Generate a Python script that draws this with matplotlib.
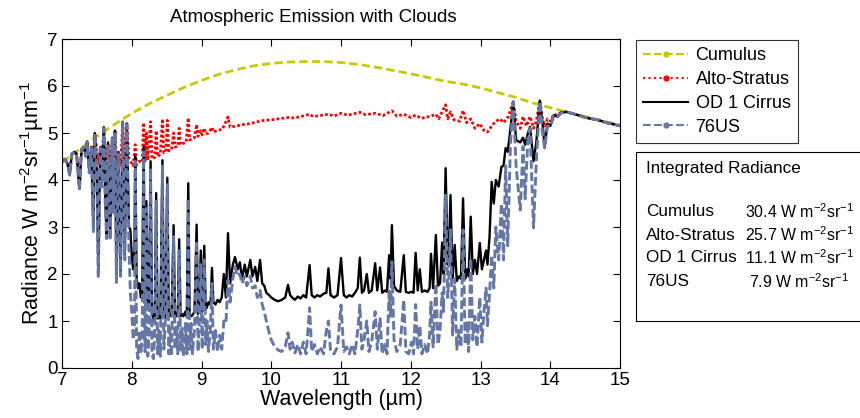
import numpy as np
import matplotlib
matplotlib.use("Agg")
import matplotlib.pyplot as plt
from matplotlib.lines import Line2D
from matplotlib.patches import Rectangle

plt.rcParams["font.family"] = ["Liberation Sans", "DejaVu Sans"]
plt.rcParams["mathtext.default"] = "regular"

# ---- Cumulus (smooth, optically thick cloud) ----
wl_cu = [7.00, 7.25, 7.50, 7.75, 8.00, 8.25, 8.50, 8.75, 9.00, 9.25, 9.50, 9.75,
         10.00, 10.25, 10.50, 10.75, 11.00, 11.25, 11.50, 11.75, 12.00, 12.25,
         12.50, 12.75, 13.00, 13.25, 13.50, 13.75, 14.00, 14.25, 14.50, 14.75, 15.00]
rad_cu = [4.38, 4.65, 4.93, 5.18, 5.42, 5.62, 5.80, 5.97, 6.12, 6.25, 6.35, 6.43,
          6.48, 6.51, 6.52, 6.52, 6.50, 6.46, 6.40, 6.33, 6.26, 6.18,
          6.10, 6.04, 5.96, 5.86, 5.76, 5.64, 5.54, 5.44, 5.35, 5.26, 5.17]

# ---- Alto-Stratus ----
wl_as = [7.00, 7.04, 7.08, 7.11, 7.14, 7.18, 7.21, 7.25, 7.28, 7.31, 7.34, 7.36, 7.39,
         7.42, 7.45, 7.47, 7.50, 7.52, 7.55, 7.57, 7.60, 7.62, 7.64, 7.66, 7.69, 7.72,
         7.74, 7.76, 7.78, 7.81, 7.84, 7.87, 7.90, 7.93, 7.96, 8.00, 8.02, 8.05, 8.07,
         8.11, 8.15, 8.17, 8.19, 8.21, 8.23, 8.27, 8.29, 8.33, 8.35, 8.37, 8.41, 8.44,
         8.46, 8.49, 8.51, 8.53, 8.57, 8.60, 8.62, 8.66, 8.68, 8.70, 8.74, 8.78, 8.81,
         8.83, 8.87, 8.90, 8.93, 8.95, 8.99, 9.01, 9.04, 9.06, 9.10, 9.15, 9.17, 9.22,
         9.30, 9.38, 9.41, 9.50, 9.60, 9.70, 9.80, 9.90, 10.00, 10.10, 10.24, 10.30,
         10.40, 10.55, 10.60, 10.70, 10.82, 10.90, 11.00, 11.10, 11.27, 11.35, 11.49,
         11.60, 11.73, 11.80, 11.90, 12.00, 12.07, 12.15, 12.29, 12.36, 12.40, 12.50,
         12.53, 12.57, 12.62, 12.70, 12.75, 12.80, 12.86, 12.92, 12.99, 13.05, 13.10,
         13.16, 13.22, 13.28, 13.33, 13.40, 13.47, 13.51, 13.57, 13.61, 13.66, 13.71,
         13.76, 13.80, 13.85, 13.89, 13.92, 13.96, 14.00, 14.05, 14.10, 14.15, 14.23,
         14.30, 14.40, 14.50, 14.60, 14.70, 14.80, 14.90, 15.00]
rad_as = [4.40, 4.45, 4.35, 4.12, 4.55, 4.60, 4.55, 3.82, 4.65, 4.70, 4.55, 4.82, 4.25,
          4.70, 4.40, 5.00, 4.60, 4.35, 4.65, 4.40, 5.12, 4.45, 4.30, 4.75, 4.35, 4.85,
          4.40, 5.05, 4.30, 4.55, 4.28, 5.24, 4.35, 5.20, 4.45, 4.35, 4.30, 4.75, 4.32,
          4.40, 4.38, 5.22, 4.40, 5.00, 4.42, 5.24, 4.45, 4.48, 5.05, 4.50, 4.55, 5.30,
          4.58, 4.60, 5.27, 4.62, 4.65, 5.00, 4.70, 4.72, 5.10, 4.75, 4.78, 4.80, 5.32,
          4.85, 4.88, 4.90, 5.18, 4.93, 5.05, 4.96, 5.10, 4.98, 5.00, 5.12, 5.02, 5.05,
          5.08, 5.34, 5.12, 5.15, 5.18, 5.20, 5.24, 5.27, 5.28, 5.30, 5.33, 5.32,
          5.34, 5.40, 5.35, 5.37, 5.40, 5.36, 5.42, 5.38, 5.44, 5.39, 5.42,
          5.37, 5.47, 5.36, 5.40, 5.33, 5.38, 5.31, 5.36, 5.40, 5.30, 5.60,
          5.30, 5.45, 5.28, 5.25, 5.48, 5.22, 5.30, 5.10, 5.20, 5.05, 5.02,
          5.15, 5.25, 5.30, 5.22, 5.35, 5.67, 5.25, 5.10, 5.35, 5.15, 5.35,
          5.10, 5.25, 5.69, 5.30, 5.15, 5.30, 5.25, 5.40, 5.38, 5.43, 5.45,
          5.42, 5.38, 5.33, 5.30, 5.27, 5.22, 5.19, 5.15]

# ---- OD 1 Cirrus and clear-sky 76US share one wavelength grid ----
wl_clr = [7.00, 7.04, 7.08, 7.11, 7.14, 7.18, 7.21, 7.25, 7.28, 7.31, 7.34, 7.36, 7.39,
          7.42, 7.45, 7.47, 7.50, 7.52, 7.55, 7.57, 7.60, 7.62, 7.64, 7.66, 7.69, 7.72,
          7.74, 7.76, 7.78, 7.81, 7.84, 7.87, 7.90, 7.93, 7.96, 7.98, 8.00, 8.02, 8.04,
          8.05, 8.07, 8.09, 8.11, 8.13, 8.15, 8.17, 8.19, 8.21, 8.23, 8.25, 8.27, 8.29,
          8.31, 8.33, 8.35, 8.37, 8.39, 8.41, 8.44, 8.46, 8.48, 8.51, 8.53, 8.55, 8.57,
          8.60, 8.62, 8.64, 8.66, 8.68, 8.70, 8.72, 8.74, 8.77, 8.79, 8.81, 8.83, 8.85,
          8.87, 8.90, 8.93, 8.95, 8.97, 8.99, 9.01, 9.04, 9.06, 9.08, 9.10, 9.13, 9.15,
          9.17, 9.20, 9.23, 9.26, 9.29, 9.32, 9.35, 9.38, 9.41, 9.45, 9.48, 9.52, 9.55,
          9.58, 9.62, 9.65, 9.70, 9.73, 9.77, 9.80, 9.84, 9.87, 9.90, 9.93, 9.97,
          10.00, 10.05, 10.10, 10.15, 10.20, 10.24, 10.27, 10.30, 10.34, 10.38, 10.42,
          10.46, 10.50, 10.55, 10.58, 10.62, 10.66, 10.70, 10.75, 10.79, 10.82, 10.85,
          10.90, 10.95, 11.00, 11.04, 11.08, 11.12, 11.16, 11.20, 11.24, 11.27, 11.30,
          11.33, 11.37, 11.40, 11.44, 11.49, 11.52, 11.56, 11.59, 11.63, 11.66, 11.69,
          11.71, 11.73, 11.76, 11.80, 11.85, 11.90, 11.93, 11.97, 12.01, 12.04, 12.07,
          12.10, 12.13, 12.16, 12.20, 12.24, 12.27, 12.29, 12.32, 12.36, 12.39, 12.42,
          12.45, 12.47, 12.50, 12.53, 12.55, 12.57, 12.60, 12.63, 12.66, 12.69, 12.72,
          12.75, 12.78, 12.81, 12.83, 12.86, 12.89, 12.92, 12.95, 12.99, 13.02, 13.05,
          13.08, 13.10, 13.13, 13.16, 13.19, 13.22, 13.26, 13.30, 13.33, 13.36, 13.39,
          13.43, 13.47, 13.51, 13.57, 13.61, 13.64, 13.68, 13.71, 13.76, 13.80, 13.85,
          13.89, 13.92, 13.96, 14.00, 14.05, 14.10, 14.15, 14.23, 14.30, 14.40, 14.50,
          14.60, 14.70, 14.80, 14.90, 15.00]
rad_ci = [4.40, 4.45, 4.35, 4.12, 4.55, 4.60, 4.55, 3.82, 4.65, 4.70, 4.55, 4.82, 4.20,
          4.70, 2.95, 5.00, 4.30, 1.98, 4.70, 3.90, 5.12, 3.60, 2.80, 4.80, 2.78, 4.90,
          3.40, 5.05, 1.88, 4.60, 2.00, 5.24, 2.40, 5.20, 3.00, 2.95, 2.40, 2.10, 2.60,
          4.50, 1.90, 1.70, 1.80, 1.50, 1.60, 4.70, 1.45, 3.55, 1.30, 1.40, 4.40, 1.20,
          1.00, 1.10, 3.72, 1.05, 1.10, 1.05, 4.42, 1.10, 1.05, 4.05, 1.10, 1.15, 1.10,
          3.04, 1.15, 1.10, 1.20, 2.74, 1.10, 1.15, 1.10, 1.20, 1.10, 3.93, 1.15, 1.10,
          1.12, 1.20, 3.05, 1.15, 1.40, 2.50, 1.20, 2.60, 1.25, 1.30, 1.40, 1.35, 2.13,
          1.40, 1.35, 1.45, 1.40, 1.50, 2.00, 1.50, 2.87, 1.80, 2.20, 2.36, 2.10, 2.25,
          1.90, 2.20, 1.95, 2.30, 1.95, 2.15, 1.85, 2.30, 1.80, 1.75, 1.60, 1.55,
          1.50, 1.45, 1.42, 1.45, 1.50, 1.77, 1.55, 1.50, 1.45, 1.52, 1.48,
          1.55, 1.50, 2.19, 1.55, 1.50, 1.55, 1.52, 1.58, 1.60, 2.12, 1.55,
          1.50, 1.55, 2.34, 1.55, 1.50, 1.55, 1.52, 1.60, 1.70, 2.35, 1.60,
          1.65, 2.00, 1.60, 1.65, 2.23, 1.65, 2.14, 1.60, 1.65, 1.62, 2.40,
          1.90, 3.04, 1.75, 1.65, 1.62, 2.40, 1.62, 1.60, 1.62, 1.60, 2.45,
          1.65, 2.10, 1.62, 1.65, 1.62, 1.70, 2.43, 1.70, 2.83, 1.75, 1.80,
          2.67, 2.00, 4.25, 2.20, 2.60, 3.68, 1.90, 2.62, 1.85, 1.95, 1.90,
          3.61, 1.90, 2.10, 1.95, 3.22, 2.00, 2.30, 2.00, 2.66, 2.10, 2.30,
          2.50, 2.20, 2.80, 3.96, 3.50, 4.00, 3.86, 4.28, 4.30, 4.68, 4.60,
          5.10, 5.67, 4.85, 4.80, 4.90, 4.75, 5.00, 5.13, 4.40, 4.80, 5.69,
          5.20, 4.70, 5.20, 5.15, 5.38, 5.35, 5.43, 5.45, 5.42, 5.38, 5.33,
          5.30, 5.27, 5.22, 5.19, 5.15]
rad_us = [4.38, 4.44, 4.33, 4.10, 4.55, 4.60, 4.52, 3.78, 4.65, 4.70, 4.50, 4.82, 4.15,
          4.68, 2.90, 4.98, 4.25, 1.92, 4.68, 3.85, 5.10, 3.50, 2.75, 4.75, 2.72, 4.88,
          3.30, 5.02, 1.82, 4.55, 1.95, 5.22, 2.30, 5.18, 2.60, 1.60, 1.20, 0.60, 0.90,
          4.40, 0.40, 0.20, 0.80, 0.30, 0.70, 4.60, 0.35, 3.40, 0.25, 0.85, 4.25, 0.30,
          0.20, 0.75, 3.55, 0.30, 0.80, 0.25, 4.30, 0.40, 0.95, 3.90, 0.30, 0.85, 0.25,
          2.80, 0.40, 0.90, 0.30, 2.50, 0.35, 0.85, 0.25, 0.95, 0.30, 3.60, 0.40, 0.95,
          0.30, 0.85, 2.70, 0.35, 1.00, 2.20, 0.40, 2.30, 0.50, 1.00, 0.35, 0.90, 1.80,
          0.40, 0.80, 0.35, 0.70, 0.40, 1.00, 0.95, 1.87, 1.40, 1.90, 2.15, 1.95, 2.00,
          1.80, 1.95, 1.75, 1.95, 1.70, 1.75, 1.50, 1.65, 1.35, 1.20, 1.00, 0.75,
          0.60, 0.45, 0.38, 0.35, 0.45, 0.75, 0.40, 0.55, 0.32, 0.50, 0.30,
          0.55, 0.30, 1.28, 0.35, 0.50, 0.30, 0.45, 0.30, 0.80, 1.00, 0.35,
          0.30, 0.45, 1.34, 0.35, 0.45, 0.30, 0.50, 0.30, 0.80, 1.34, 0.40,
          0.60, 1.00, 0.35, 0.55, 1.20, 0.40, 1.05, 0.30, 0.50, 0.30, 1.64,
          1.10, 2.26, 0.60, 0.35, 0.50, 1.45, 0.35, 0.30, 0.55, 0.30, 1.35,
          0.40, 0.90, 0.30, 0.50, 0.30, 0.70, 1.40, 0.45, 1.80, 0.50, 0.80,
          1.60, 1.20, 3.68, 1.50, 2.00, 2.94, 0.70, 1.90, 0.40, 0.80, 0.45,
          2.94, 0.50, 1.00, 0.35, 2.33, 0.60, 1.10, 0.45, 1.50, 0.55, 1.20,
          1.70, 0.90, 1.60, 2.40, 1.70, 3.00, 2.30, 3.50, 2.30, 4.30, 2.60,
          4.80, 5.65, 4.30, 3.36, 4.71, 3.60, 4.90, 5.10, 2.98, 4.40, 5.67,
          5.00, 4.68, 5.15, 5.13, 5.36, 5.33, 5.42, 5.45, 5.42, 5.38, 5.33,
          5.30, 5.27, 5.22, 5.19, 5.15]

series_names = ["Cumulus", "Alto-Stratus", "OD 1 Cirrus", "76US"]
integrated = [30.4, 25.7, 11.1, 7.9]

C_CU, C_AS, C_CI, C_US = "#c8c800", "#ff0000", "#000000", "#6577a5"

W, H = 860, 418
fig = plt.figure(figsize=(W / 100, H / 100), dpi=100)
ax = fig.add_axes([62 / W, 1 - 368 / H, 558 / W, 329 / H])

ax.plot(wl_cu, rad_cu, color=C_CU, ls=(0, (3, 1.5)), lw=2)
ax.plot(wl_as, rad_as, color=C_AS, ls=(0, (1, 0.8)), lw=2)
ax.plot(wl_clr, rad_ci, color=C_CI, ls="-", lw=1.7)
ax.plot(wl_clr, rad_us, color=C_US, ls=(0, (3, 1.2)), lw=2.1)

ax.set_xlim(7, 15)
ax.set_ylim(0, 7)
ax.set_xticks(range(7, 16))
ax.set_yticks(range(0, 8))
ax.tick_params(direction="in", top=True, right=True, labelsize=13.5, length=5, pad=3)
ax.set_xlabel("Wavelength (µm)", fontsize=15.5, labelpad=0)
ax.set_ylabel(r"Radiance W m$^{-2}$sr$^{-1}$µm$^{-1}$", fontsize=15.5, labelpad=1)
fig.text(313 / W, 1 - 17 / H, "Atmospheric Emission with Clouds", fontsize=13.5,
         ha="center", va="center")

handles = [
    Line2D([], [], color=C_CU, ls="--", lw=1.5, marker=".", markersize=7, markevery=[1]),
    Line2D([], [], color=C_AS, ls=":", lw=1.5, marker=".", markersize=7, markevery=[1]),
    Line2D([], [], color=C_CI, ls="-", lw=1.5),
    Line2D([], [], color=C_US, ls="--", lw=1.5, marker=".", markersize=7, markevery=[1]),
]
for h in handles:
    h.set_data([0, 0.5, 1], [0, 0, 0])
leg = fig.legend(handles, series_names, loc="upper left",
                 bbox_to_anchor=(636 / W, 1 - 40 / H), fontsize=13, frameon=True,
                 fancybox=False, edgecolor="black", handlelength=2.5,
                 handletextpad=0.4, borderpad=0.4, labelspacing=0.38,
                 borderaxespad=0)
leg.get_frame().set_linewidth(0.8)

# integrated radiance box, runs off the right edge of the figure
fig.add_artist(Rectangle((636 / W, 1 - 321 / H), 0.3, (321 - 152) / H,
                         transform=fig.transFigure, fill=False, lw=0.8,
                         edgecolor="black", clip_on=False))
fig.text(646 / W, 1 - 168 / H, "Integrated Radiance", fontsize=12.3, va="center")
row_y = [212, 235, 258, 282]
for name, val, y in zip(series_names, integrated, row_y):
    fig.text(646 / W, 1 - y / H, name, fontsize=12.3, va="center")
    x0 = 745 if val >= 10 else 749
    fig.text(x0 / W, 1 - y / H, f"{val:.1f} W m$^{{-2}}$sr$^{{-1}}$",
             fontsize=11.4, va="center")

fig.savefig("out.png", dpi=100)
